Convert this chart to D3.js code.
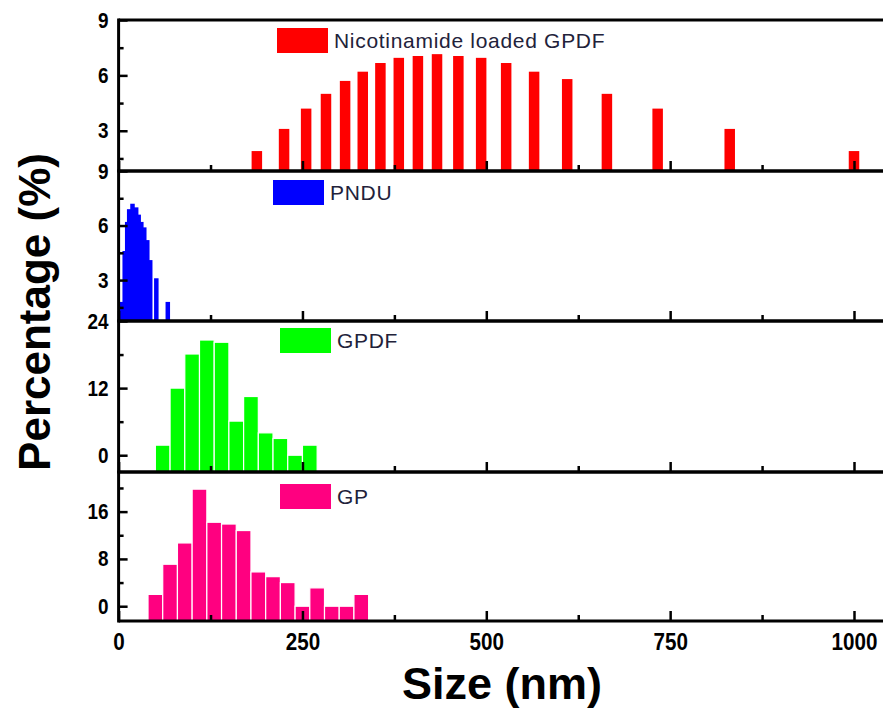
<!DOCTYPE html>
<html>
<head>
<meta charset="utf-8">
<script src="https://cdn.jsdelivr.net/npm/d3@7"></script>
<style>
  body { margin: 0; background: #fff; }
  .tick text { font-family: "Liberation Sans", Arial, sans-serif; font-weight: bold; fill: #000; }
  .title { font-family: "Liberation Sans", Arial, sans-serif; font-weight: bold; fill: #000; }
  .legend { font-family: "Liberation Sans", Arial, sans-serif; fill: #22223a; }
</style>
</head>
<body>
<script>
// Data (size in nm, percentage)
const nicoSize = [188, 225, 255, 282, 308, 332, 356, 381, 407, 433, 462, 493, 527, 565, 610, 664, 733, 831, 1000];
const nicoPct  = [1.9, 3.1, 4.2, 5.0, 5.7, 6.2, 6.67, 6.95, 7.05, 7.15, 7.05, 6.95, 6.67, 6.2, 5.8, 5.0, 4.2, 3.1, 1.9];

const pnduSize = [4.6, 8.3, 11.7, 14.4, 18.9, 23.9, 27.3, 30.9, 34.9, 39.0, 43.0, 51.3, 66.9];
const pnduPct  = [1.8, 4.6, 6.2, 6.9, 7.2, 7.0, 6.6, 6.2, 5.9, 5.2, 4.1, 3.1, 1.8];

const gpdfSize = [60, 80, 100, 120, 140, 160, 180, 200, 220, 240, 260];
const gpdfPct  = [1.8, 12.0, 18.1, 20.6, 20.2, 6.1, 10.5, 4.0, 3.0, 0, 1.8];

const gpSize = [50, 70, 90, 110, 130, 150, 170, 190, 210, 230, 250, 270, 290, 310, 330];
const gpPct  = [2.0, 7.1, 10.7, 19.8, 14.2, 13.9, 12.8, 5.8, 5.0, 4.0, 0, 3.1, 0, 0, 2.0];

const legendNames = ["Nicotinamide loaded GPDF", "PNDU", "GPDF", "GP"];
const xMajor = [0, 250, 500, 750, 1000];
const xMinor = [125, 375, 625, 875];
const yMajor = [[3, 6, 9], [3, 6, 9], [0, 12, 24], [0, 8, 16]];
const yMinor = [[1.5, 4.5, 7.5], [1.5, 4.5, 7.5], [6, 18], [4, 12, 20]];
const yDomains = [[0.82, 9], [0.75, 9], [-3, 24], [-2.5, 22.7]];

// Layout
const width = 883, height = 711;
const left = 118.6, right = 900;
const panelTops = [20, 171, 321, 472], plotBottom = 621;
const colors = ["#ff0000", "#0000ff", "#00ff00", "#ff0080"];
const squeeze = 0.86; // tick labels are a condensed face in the original

const svg = d3.select("body").append("svg")
    .attr("width", width)
    .attr("height", height);

const x = d3.scaleLinear().domain([0, 1000]).range([left, 854]);

const panels = [
    { size: nicoSize, pct: nicoPct, barW: () => 10.5, stroke: "none" },
    { size: pnduSize, pct: pnduPct, barW: () => 4.5, stroke: "none" },
    { size: gpdfSize, pct: gpdfPct, barW: () => x(20) - x(0), stroke: "#fff" },
    { size: gpSize, pct: gpPct, barW: () => x(20) - x(0), stroke: "#fff" }
];

panels.forEach((p, i) => {
    const top = panelTops[i];
    const bottom = i < 3 ? panelTops[i + 1] : plotBottom;
    const y = d3.scaleLinear().domain(yDomains[i]).range([bottom, top]);
    const g = svg.append("g").attr("class", "panel");
    const w = p.barW();

    // bars
    g.selectAll("rect.bar")
        .data(p.size.map((s, j) => ({ s: s, v: p.pct[j] })))
        .enter()
        .append("rect")
        .attr("class", "bar")
        .attr("x", d => x(d.s) - w / 2)
        .attr("y", d => y(d.v))
        .attr("width", w)
        .attr("height", d => bottom - y(d.v))
        .attr("fill", colors[i])
        .attr("stroke", p.stroke)
        .attr("stroke-width", 1.2);

    // legend
    const lx = [277, 273, 280, 280][i], ly = top + [8, 9, 7, 12][i];
    g.append("rect")
        .attr("x", lx).attr("y", ly)
        .attr("width", 51).attr("height", 25)
        .attr("fill", colors[i]);
    g.append("text")
        .attr("class", "legend")
        .attr("x", lx + 57).attr("y", ly + 20)
        .attr("font-size", 21)
        .attr("letter-spacing", 0.7)
        .text(legendNames[i]);

    // left axis, ticks inward
    const yAxis = d3.axisLeft(y).tickValues(yMajor[i]).tickSizeInner(-9).tickSizeOuter(0).tickPadding(0);
    const yAxisMinor = d3.axisLeft(y).tickValues(yMinor[i]).tickSizeInner(-5).tickSizeOuter(0).tickFormat("");
    const ya = g.append("g").attr("transform", `translate(${left},0)`).call(yAxis);
    g.append("g").attr("transform", `translate(${left},0)`).call(yAxisMinor);
    ya.selectAll("text")
        .attr("font-size", 22)
        .attr("x", 0)
        .attr("transform", `translate(-10,0) scale(${squeeze},1)`);

    // bottom axis, ticks inward
    const xAxis = d3.axisBottom(x).tickValues(xMajor).tickSizeInner(-10).tickSizeOuter(0)
        .tickPadding(12).tickFormat(d3.format("d"));
    if (i < 3) xAxis.tickFormat("");
    const xa = g.append("g").attr("transform", `translate(0,${bottom})`).call(xAxis);
    xa.selectAll("text")
        .attr("font-size", 24)
        .attr("transform", `scale(${squeeze},1)`);
    g.append("g").attr("transform", `translate(0,${bottom})`)
        .call(d3.axisBottom(x).tickValues(xMinor).tickSizeInner(-6).tickSizeOuter(0).tickFormat(""));

    g.selectAll(".domain").remove();
    g.selectAll(".tick line").attr("stroke", "#000").attr("stroke-width", 2.5);

    // frame lines
    g.append("line").attr("x1", left).attr("x2", right).attr("y1", top).attr("y2", top)
        .attr("stroke", "#000").attr("stroke-width", 3);
    g.append("line").attr("x1", left).attr("x2", right).attr("y1", bottom).attr("y2", bottom)
        .attr("stroke", "#000").attr("stroke-width", 3);
    g.append("line").attr("x1", left).attr("x2", left).attr("y1", top - 1.5).attr("y2", bottom + 1.5)
        .attr("stroke", "#000").attr("stroke-width", 3);
});

// axis titles
svg.append("text")
    .attr("class", "title")
    .attr("transform", "translate(50,312) rotate(-90)")
    .attr("text-anchor", "middle")
    .attr("font-size", 44)
    .text("Percentage (%)");

svg.append("text")
    .attr("class", "title")
    .attr("x", 502).attr("y", 699)
    .attr("text-anchor", "middle")
    .attr("font-size", 45)
    .text("Size (nm)");
</script>
</body>
</html>
